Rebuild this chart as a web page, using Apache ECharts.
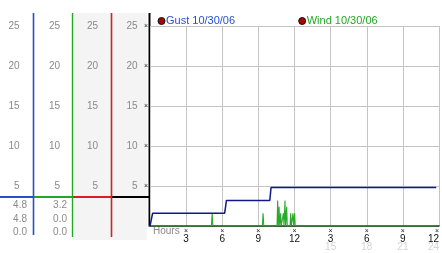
<!DOCTYPE html>
<html><head><meta charset="utf-8">
<script src="https://cdn.jsdelivr.net/npm/echarts@6/dist/echarts.min.js"></script>
<style>html,body{margin:0;padding:0;background:#fff}#c{width:442px;height:253px}</style>
</head><body><div id="c"></div>
<script>
// ---- data ----
const legendNames = ['Gust 10/30/06', 'Wind 10/30/06'];
const hourTicks = [3, 6, 9, 12, 15, 18, 21, 24];
const yTicks = [5, 10, 15, 20, 25];
// [hour, mph]
const gustData = [[0, 0], [0.22, 1.6], [6.2, 1.6], [6.35, 3.2], [9.95, 3.2], [10.05, 4.8], [23.77, 4.8]];
const windData = [
  [0, 0], [5.1, 0], [5.16, 1.6], [5.22, 0],
  [9.33, 0], [9.39, 1.6], [9.45, 0],
  [10.55, 0], [10.6, 3.2], [10.65, 0], [10.67, 0], [10.72, 2.4], [10.77, 0], [10.8, 0], [10.85, 1.6], [10.9, 0],
  [11.03, 0], [11.08, 1.6], [11.13, 0], [11.16, 0], [11.21, 3.2], [11.26, 0], [11.3, 0], [11.35, 2.4], [11.4, 0],
  [11.63, 0], [11.68, 1.6], [11.73, 0], [11.82, 0], [11.87, 1.6], [11.92, 0], [11.96, 0], [12.01, 1.6], [12.06, 0],
  [23.77, 0]
];
const gustStats = ['4.8', '4.8', '0.0'];
const windStats = ['3.2', '0.0', '0.0'];

// ---- colours ----
const BLUE = '#2250d0', GREEN = '#22a822', RED = '#d82020';
const GUST_LINE = '#10188a', WIND_LINE = '#2aaa2a';

const chart = echarts.init(document.getElementById('c'), null, {renderer: 'canvas'});

function colAxis(offset, margin, showMarks) {
  return {
    type: 'value', position: 'left', offset: offset, min: 0, max: 25, interval: 5,
    axisLine: {show: false}, axisTick: {show: false}, splitLine: {show: false},
    axisLabel: {
      margin: margin, color: showMarks ? '#222' : '#8a8a8a',
      fontSize: showMarks ? 7 : 10, fontFamily: 'Arial',
      formatter: v => (yTicks.indexOf(v) >= 0 ? (showMarks ? '×' : String(v)) : '')
    }
  };
}

const elems = [];
// shaded columns
elems.push({type: 'rect', shape: {x: 73, y: 13, width: 74, height: 227}, style: {fill: '#f4f4f4'}, z2: 0});
// horizontal coloured bar
[[0, 33.5, BLUE], [33.5, 72.5, GREEN], [72.5, 111.5, RED], [111.5, 149, '#000']].forEach(([x1, x2, c]) => {
  elems.push({type: 'line', z2: 5, shape: {x1: x1, y1: 197, x2: x2, y2: 197}, style: {stroke: c, lineWidth: 2}});
});
// vertical column lines
[[33.5, 235, BLUE, 1.6], [72.5, 237, GREEN, 1.4], [111.5, 237, RED, 1.6], [149.5, 226.5, '#000', 2]].forEach(([x, y2, c, w]) => {
  elems.push({type: 'line', z2: 10, shape: {x1: x, y1: 13, x2: x, y2: y2}, style: {stroke: c, lineWidth: w}});
});
// stats text
const statY = [205.5, 219, 232.5];
function statText(txt, x, y) {
  return {type: 'text', z2: 5, style: {text: txt, x: x, y: y, fill: '#8a8a8a', font: '10px Arial',
    align: 'right', verticalAlign: 'middle', textAlign: 'right', textVerticalAlign: 'middle'}};
}
gustStats.forEach((t, i) => elems.push(statText(t, 27, statY[i])));
windStats.forEach((t, i) => elems.push(statText(t, 67, statY[i])));
elems.push({type: 'text', z2: 5, style: {text: 'Hours', x: 153, y: 231.5, fill: '#8a8a8a', font: '10px Arial',
  align: 'left', verticalAlign: 'middle', textAlign: 'left', textVerticalAlign: 'middle'}});

const legendBase = {
  icon: 'circle', itemWidth: 7, itemHeight: 7, selectedMode: false, top: 14, orient: 'horizontal',
  padding: 0
};

const option = {
  animation: false,
  backgroundColor: '#fff',
  grid: {left: 150, right: 2.5, top: 26, bottom: 27, containLabel: false},
  legend: [
    Object.assign({}, legendBase, {left: 157.5, data: [{name: legendNames[0],
      itemStyle: {color: '#b00000', borderColor: '#111', borderWidth: 1},
      textStyle: {color: BLUE, fontSize: 11, fontFamily: 'Arial', padding: [0, 0, 0, -4], lineHeight: 14}}]}),
    Object.assign({}, legendBase, {left: 298.2, data: [{name: legendNames[1],
      itemStyle: {color: '#b00000', borderColor: '#111', borderWidth: 1},
      textStyle: {color: GREEN, fontSize: 11, fontFamily: 'Arial', padding: [0, 0, 0, -4], lineHeight: 14}}]})
  ],
  xAxis: {
    type: 'value', min: 0, max: 24, interval: 3, z: 3,
    axisLine: {show: true, lineStyle: {color: '#143214', width: 1.5}},
    axisTick: {show: false},
    splitLine: {show: true, lineStyle: {color: '#c4c4c4', width: 1}},
    axisLabel: {
      margin: 1, alignMaxLabel: 'right', showMinLabel: true, showMaxLabel: true,
      formatter: v => {
        if (hourTicks.indexOf(v) < 0) return '';
        const h12 = v > 12 ? v - 12 : v;
        return '{x|×}\n{a|' + h12 + '}' + (v > 12 ? '\n{b|' + v + '}' : '');
      },
      rich: {
        x: {fontSize: 7, lineHeight: 8, color: '#222', fontFamily: 'Arial'},
        a: {fontSize: 10, lineHeight: 8, color: '#111', fontFamily: 'Arial'},
        b: {fontSize: 10, lineHeight: 9, color: '#d4d4d4', fontFamily: 'Arial'}
      }
    }
  },
  yAxis: [
    {
      type: 'value', position: 'left', offset: 0, min: 0, max: 25, interval: 5,
      axisLine: {show: false}, axisTick: {show: false},
      splitLine: {show: true, lineStyle: {color: '#c4c4c4', width: 1}},
      axisLabel: {margin: 12.5, color: '#8a8a8a', fontSize: 10, fontFamily: 'Arial',
        formatter: v => (yTicks.indexOf(v) >= 0 ? String(v) : '')}
    },
    colAxis(0, 2, true),
    colAxis(39.5, 12.5, false),
    colAxis(77.5, 12.5, false),
    colAxis(116.5, 14, false)
  ],
  graphic: {elements: [{type: 'group', z: 1, children: elems}]},
  series: [
    {name: legendNames[0], type: 'line', yAxisIndex: 0, data: gustData, showSymbol: false, symbol: 'none',
      lineStyle: {color: GUST_LINE, width: 1.5}, itemStyle: {color: GUST_LINE}, z: 4},
    {name: legendNames[1], type: 'line', yAxisIndex: 0, data: windData, showSymbol: false, symbol: 'none',
      lineStyle: {color: WIND_LINE, width: 1.1}, itemStyle: {color: WIND_LINE}, z: 3}
  ]
};
chart.setOption(option);
</script>
</body></html>
